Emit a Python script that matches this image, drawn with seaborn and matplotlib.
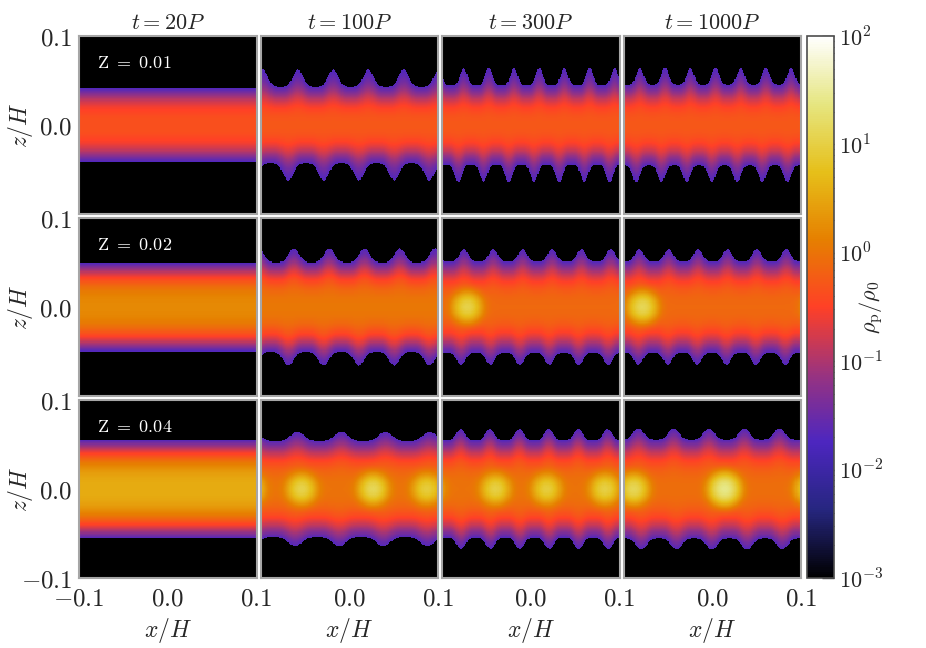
import numpy as np
import matplotlib
matplotlib.use("Agg")
import matplotlib.pyplot as plt
import seaborn as sns
from matplotlib.colors import LogNorm

# column / row labels
TIMES = ["20", "100", "300", "1000"]
METALLICITY = ["0.01", "0.02", "0.04"]

# values (rows: Z, columns: time)
MID_DENSITY = [[0.45, 0.45, 0.45, 0.45],
               [1.6, 1.0, 0.7, 0.7],
               [3.5, 0.9, 0.9, 0.8]]
CORE_WIDTH = [[0.026, 0.026, 0.027, 0.028],
              [0.027, 0.030, 0.031, 0.031],
              [0.028, 0.032, 0.033, 0.034]]
TAIL_DENSITY = [[0.0, 0.08, 0.08, 0.08],
                [0.03, 0.08, 0.08, 0.08],
                [0.04, 0.07, 0.07, 0.07]]
TAIL_WIDTH = [[0.030, 0.040, 0.041, 0.041],
              [0.032, 0.040, 0.040, 0.040],
              [0.036, 0.040, 0.041, 0.041]]
RIPPLES = [[0, 5, 7, 7],
           [0, 5, 6, 6],
           [0, 4, 6, 5]]
RIPPLE_AMP = [[0.0, 0.25, 0.25, 0.25],
              [0.0, 0.25, 0.22, 0.22],
              [0.0, 0.18, 0.22, 0.22]]
CLUMP_X = [[[], [], [], []],
           [[], [], [-0.072], [-0.079]],
           [[], [-0.054, 0.027, 0.088], [-0.040, 0.018, 0.084], [-0.089, 0.014]]]
CLUMP_PEAK = [[[], [], [], []],
              [[], [], [10], [12]],
              [[], [10, 12, 8], [9, 8, 9], [12, 25]]]

n = 160
xs = np.linspace(-0.1, 0.1, n)
zs = np.linspace(0.1, -0.1, n)
X, Zg = np.meshgrid(xs, zs)


def panel_field(i, j):
    k = RIPPLES[i][j]
    a = RIPPLE_AMP[i][j]
    ph = 2 * np.pi * k * (X + 0.1) / 0.2
    top = 2 * ((1 + np.sin(ph + 0.7 * i + 1.3 * j)) / 2) ** 2 - 1
    bot = 2 * ((1 + np.sin(ph + 2.1 + 0.9 * j)) / 2) ** 2 - 1
    wave = np.where(Zg > 0, top, bot)
    hc = CORE_WIDTH[i][j] * (1 + 0.3 * a * wave)
    ht = TAIL_WIDTH[i][j] * (1 + a * wave)
    rho = MID_DENSITY[i][j] * np.exp(-(np.abs(Zg) / hc) ** 2.5)
    rho = rho + TAIL_DENSITY[i][j] * np.exp(-(np.abs(Zg) / ht) ** 1.5)
    for xc, pk in zip(CLUMP_X[i][j], CLUMP_PEAK[i][j]):
        dx = (X - xc + 0.1) % 0.2 - 0.1
        rho = rho + pk * np.exp(-(dx ** 2 + Zg ** 2) / (2 * 0.0085 ** 2))
    rho[rho < 0.02] = 1e-5
    return rho


sns.set_theme(style="white")
plt.rcParams["mathtext.fontset"] = "cm"

cmap = plt.get_cmap("CMRmap").copy()
cmap.set_under("black")
norm = LogNorm(1e-3, 1e2)

W, H = 926, 648
fig = plt.figure(figsize=(W / 100, H / 100), dpi=100)

pw, ph_, gap = 177.5, 178, 4
major = [-0.1, 0.0, 0.1]
minor = [-0.08, -0.06, -0.04, -0.02, 0.02, 0.04, 0.06, 0.08]


def xpos(v):
    return [(t + 0.1) / 0.2 * n for t in v]


def ypos(v):
    return [(0.1 - t) / 0.2 * n for t in v]


mesh = None
for i in range(3):
    for j in range(4):
        x0 = 79 + j * (pw + gap)
        y0 = 36 + i * (ph_ + gap)
        ax = fig.add_axes([x0 / W, 1 - (y0 + ph_) / H, pw / W, ph_ / H])
        sns.heatmap(panel_field(i, j), ax=ax, cmap=cmap, norm=norm, cbar=False,
                    xticklabels=False, yticklabels=False, rasterized=True)
        mesh = ax.collections[0]
        for s in ax.spines.values():
            s.set_visible(True)
            s.set_color("0.65")
            s.set_linewidth(1.5)

        ax.set_xticks(xpos(major))
        ax.set_xticks(xpos(minor), minor=True)
        ax.set_yticks(ypos(major))
        ax.set_yticks(ypos(minor), minor=True)
        if i == 2:
            first = r"$-0.1$" if j == 0 else ""
            ax.set_xticklabels([first, r"$0.0$", r"$0.1$"])
            ax.set_xlabel(r"$x/H$", fontsize=17, labelpad=4)
        else:
            ax.set_xticklabels([])
        if j == 0:
            first = r"$-0.1$" if i == 2 else ""
            ax.set_yticklabels([first, r"$0.0$", r"$0.1$"])
            ax.set_ylabel(r"$z/H$", fontsize=17)
            ax.yaxis.set_label_coords(-0.25, 0.5)
            ax.text(0.10, 0.85, r"$\mathrm{Z}\ =\ " + METALLICITY[i] + "$",
                    transform=ax.transAxes, color="white", fontsize=13,
                    ha="left", va="center")
        else:
            ax.set_yticklabels([])
        if i == 0:
            ax.set_title(r"$t = " + TIMES[j] + "P$", fontsize=16, pad=5)

        ax.tick_params(which="both", direction="in", top=True, right=True,
                       bottom=True, left=True, color="0.85", labelsize=18)
        ax.tick_params(axis="x", pad=6)
        ax.tick_params(axis="y", pad=5)
        ax.tick_params(which="major", length=5, width=1.2)
        ax.tick_params(which="minor", length=3, width=0.9)

cax = fig.add_axes([807 / W, 1 - 578 / H, 27 / W, 542 / H])
cb = fig.colorbar(mesh, cax=cax)
cb.set_ticks([1e-3, 1e-2, 1e-1, 1e0, 1e1, 1e2])
cb.set_ticklabels([r"$10^{-3}$", r"$10^{-2}$", r"$10^{-1}$",
                   r"$10^{0}$", r"$10^{1}$", r"$10^{2}$"])
cb.outline.set_edgecolor("0.3")
cb.outline.set_linewidth(1.2)
cax.tick_params(which="both", direction="in", right=True, left=False,
                color="0.25", labelsize=16)
cax.tick_params(which="major", length=9, width=1.0)
cax.tick_params(which="minor", length=6, width=0.8)
cax.set_ylabel(r"$\rho_{\mathrm{p}}/\rho_0$", fontsize=16)
cax.yaxis.set_label_position("right")
cax.yaxis.set_label_coords(1.85, 0.5)

fig.savefig("out.png", dpi=100)
